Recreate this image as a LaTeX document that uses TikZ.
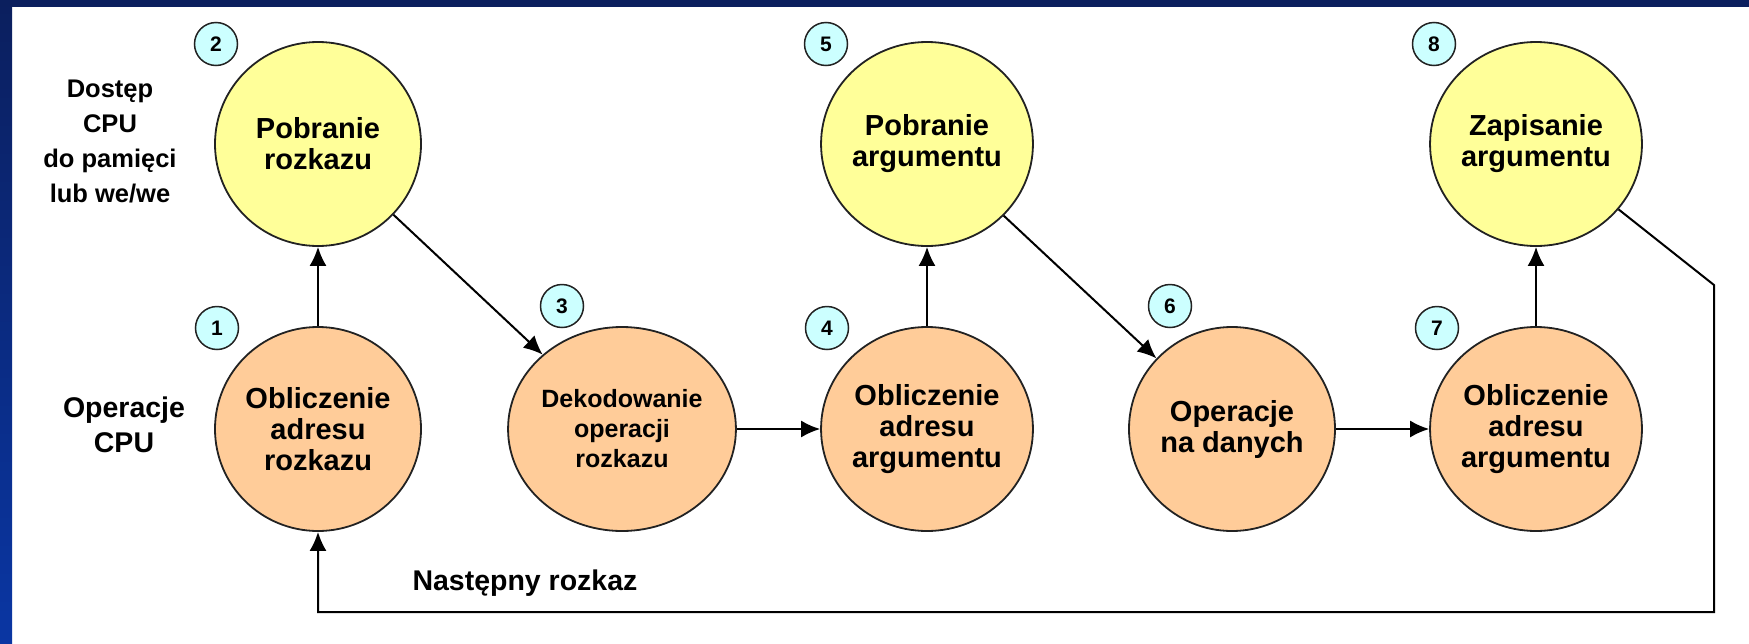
\documentclass[tikz,border=0pt]{standalone}
\usepackage{fontspec}
\setmainfont{Liberation Sans}
\usetikzlibrary{shapes.geometric,arrows.meta}

\definecolor{fetchfill}{HTML}{FFFF99}
\definecolor{cpufill}{HTML}{FFCC99}
\definecolor{tagfill}{HTML}{CCFFFF}
\definecolor{navy}{HTML}{0B1F5E}
\definecolor{royal}{HTML}{0A36A3}
\definecolor{inkline}{HTML}{222222}

\tikzset{
  state/.style={ellipse, draw=inkline, line width=1.8pt,
    minimum width=206pt, minimum height=204pt, inner sep=0pt,
    align=center, text=black, font=\bfseries\fontsize{29}{31}\selectfont},
  memstate/.style={state, fill=fetchfill},
  cpustate/.style={state, fill=cpufill},
  tag/.style={circle, draw=inkline, line width=1.5pt, fill=tagfill,
    minimum size=43pt, inner sep=0pt, font=\bfseries\fontsize{21}{21}\selectfont},
  flow/.style={draw=black, line width=2pt, -{Latex[length=19pt,width=17pt]}},
  rowlabel/.style={align=center, text=black, font=\bfseries\fontsize{25.5}{35}\selectfont},
}

\begin{document}
\begin{tikzpicture}[x=1pt,y=-1pt]
  \useasboundingbox (0,0) rectangle (1749,643);
  % slide frame: white canvas with blue edges
  \fill[white] (0,0) rectangle (1749,643);
  \shade[top color=navy, bottom color=royal] (0,0) rectangle (12,643);
  \fill[navy] (0,0) rectangle (1749,7);

  % row captions
  \node[rowlabel] (memlabel) at (110,141) {Dostęp\\CPU\\do pamięci\\lub we/we};
  \node[rowlabel, font=\bfseries\fontsize{28.5}{35}\selectfont] (cpulabel) at (124,425) {Operacje\\CPU};

  % instruction cycle states
  \node[cpustate] (n1) at (318,429) {Obliczenie\\adresu\\rozkazu};
  \node[memstate] (n2) at (318,144) {Pobranie\\rozkazu};
  \node[cpustate, font=\bfseries\fontsize{25}{30}\selectfont] (n3) at (622,429) {Dekodowanie\\operacji\\rozkazu};
  \node[cpustate] (n4) at (927,429) {Obliczenie\\adresu\\argumentu};
  \node[memstate] (n5) at (927,144) {Pobranie\\argumentu};
  \node[cpustate] (n6) at (1232,429) {Operacje\\na danych};
  \node[cpustate] (n7) at (1536,429) {Obliczenie\\adresu\\argumentu};
  \node[memstate] (n8) at (1536,144) {Zapisanie\\argumentu};

  % step numbers
  \node[tag] (t1) at (217,328) {1};
  \node[tag] (t2) at (216,44) {2};
  \node[tag] (t3) at (562,306) {3};
  \node[tag] (t4) at (827,328) {4};
  \node[tag] (t5) at (826,44) {5};
  \node[tag] (t6) at (1170,306) {6};
  \node[tag] (t7) at (1437,328) {7};
  \node[tag] (t8) at (1434,44) {8};

  % transitions
  \draw[flow] (n1) -- (n2);
  \draw[flow] (n2) -- (n3);
  \draw[flow] (n3) -- (n4);
  \draw[flow] (n4) -- (n5);
  \draw[flow] (n5) -- (n6);
  \draw[flow] (n6) -- (n7);
  \draw[flow] (n7) -- (n8);

  % loop back to the next instruction
  \coordinate (turn) at (1714,285);
  \coordinate (back) at (1714,612);
  \draw[flow] (n8) -- (turn) -- (back) -| (n1.south);
  \node[anchor=base, text=black, font=\bfseries\fontsize{28.5}{34}\selectfont] (next) at (525,590) {Następny rozkaz};
\end{tikzpicture}
\end{document}
